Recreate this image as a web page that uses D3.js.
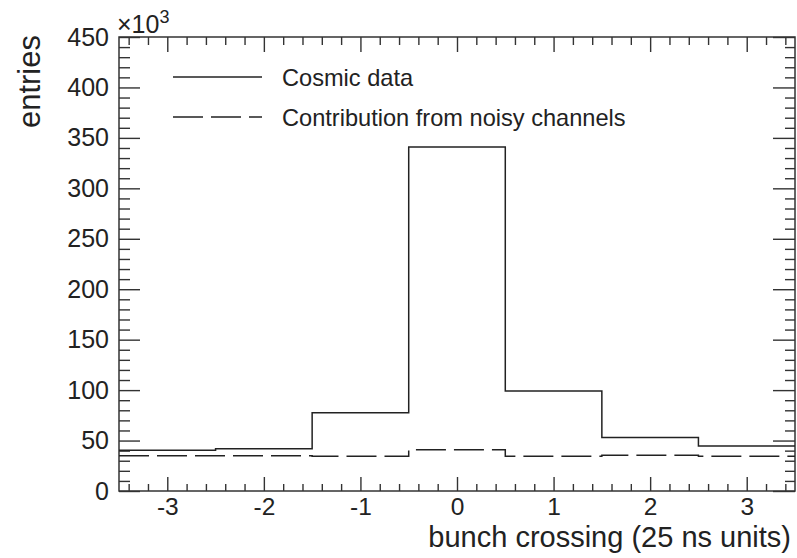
<!DOCTYPE html>
<html>
<head>
<meta charset="utf-8">
<script src="https://cdn.jsdelivr.net/npm/d3@7"></script>
<style>
  body { margin: 0; background: #fff; }
  svg { display: block; font-family: "Liberation Sans", Arial, sans-serif; }
  .axis path.domain { display: none; }
  .axis line { stroke: #333; stroke-width: 1.4; }
  .axis text { fill: #222; }
</style>
</head>
<body>
<div id="chart"></div>
<script>
// bin centres (25 ns units) and entries in units of 10^3
var binCenters = [-3, -2, -1, 0, 1, 2, 3];
var cosmicData = [40.5, 42, 77.5, 341, 99, 53, 44.5];
var noisyData = [35, 35, 34.5, 41, 34.5, 35.5, 34.5];
var xMajorTicks = [-3, -2, -1, 0, 1, 2, 3];
var yMajorTicks = [0, 50, 100, 150, 200, 250, 300, 350, 400, 450];
var legendLabels = ["Cosmic data", "Contribution from noisy channels"];

var width = 797, height = 558;
var frame = { left: 119, right: 795, top: 37, bottom: 491 };

var svg = d3.select("#chart").append("svg")
    .attr("width", width)
    .attr("height", height);

var x = d3.scaleLinear().domain([-3.5, 3.5]).range([frame.left, frame.right]);
var y = d3.scaleLinear().domain([0, 450]).range([frame.bottom, frame.top]);

// minor ticks: 5 divisions per major
var xMinor = d3.range(-34, 35, 2).map(d => d / 10).filter(d => !xMajorTicks.includes(d));
var yMinor = d3.range(0, 451, 10).filter(d => d % 50 !== 0);

// plain hyphen-minus like the original
var plain = d => String(d);

// bottom axis
svg.append("g").attr("class", "axis")
    .attr("transform", "translate(0," + frame.bottom + ")")
    .call(d3.axisBottom(x).tickValues(xMajorTicks).tickFormat(plain).tickSizeInner(-14).tickSizeOuter(0).tickPadding(7))
    .selectAll("text").style("font-size", "24.5px");
svg.append("g").attr("class", "axis")
    .attr("transform", "translate(0," + frame.bottom + ")")
    .call(d3.axisBottom(x).tickValues(xMinor).tickSizeInner(-7).tickSizeOuter(0).tickFormat(""));

// top axis (ticks only)
svg.append("g").attr("class", "axis")
    .attr("transform", "translate(0," + frame.top + ")")
    .call(d3.axisTop(x).tickValues(xMajorTicks).tickSizeInner(-15).tickSizeOuter(0).tickFormat(""));
svg.append("g").attr("class", "axis")
    .attr("transform", "translate(0," + frame.top + ")")
    .call(d3.axisTop(x).tickValues(xMinor).tickSizeInner(-8).tickSizeOuter(0).tickFormat(""));

// left axis
svg.append("g").attr("class", "axis")
    .attr("transform", "translate(" + frame.left + ",0)")
    .call(d3.axisLeft(y).tickValues(yMajorTicks).tickFormat(plain).tickSizeInner(-21).tickSizeOuter(0).tickPadding(10))
    .selectAll("text").style("font-size", "25px");
svg.append("g").attr("class", "axis")
    .attr("transform", "translate(" + frame.left + ",0)")
    .call(d3.axisLeft(y).tickValues(yMinor).tickSizeInner(-11).tickSizeOuter(0).tickFormat(""));

// right axis (ticks only)
svg.append("g").attr("class", "axis")
    .attr("transform", "translate(" + frame.right + ",0)")
    .call(d3.axisRight(y).tickValues(yMajorTicks).tickSizeInner(-22).tickSizeOuter(0).tickFormat(""));
svg.append("g").attr("class", "axis")
    .attr("transform", "translate(" + frame.right + ",0)")
    .call(d3.axisRight(y).tickValues(yMinor).tickSizeInner(-10).tickSizeOuter(0).tickFormat(""));

// frame
svg.append("rect")
    .attr("x", frame.left).attr("y", frame.top)
    .attr("width", frame.right - frame.left).attr("height", frame.bottom - frame.top)
    .attr("fill", "none").attr("stroke", "#333").attr("stroke-width", 1.5);

// histogram outlines: points on bin low edges, plus the last high edge
function histPoints(values) {
    var pts = binCenters.map((c, i) => [c - 0.5, values[i]]);
    pts.push([binCenters[binCenters.length - 1] + 0.5, values[values.length - 1]]);
    return pts;
}
var stepLine = d3.line()
    .x(d => x(d[0]))
    .y(d => y(d[1]))
    .curve(d3.curveStepAfter);

svg.append("path")
    .attr("d", stepLine(histPoints(cosmicData)))
    .attr("fill", "none").attr("stroke", "#222").attr("stroke-width", 1.5);

svg.append("path")
    .attr("d", stepLine(histPoints(noisyData)))
    .attr("fill", "none").attr("stroke", "#222").attr("stroke-width", 1.5)
    .attr("stroke-dasharray", "30,8");

// legend
var legend = svg.append("g");
legendLabels.forEach(function (label, i) {
    var ly = 77 + i * 40;
    legend.append("line")
        .attr("x1", 173).attr("x2", 262).attr("y1", ly).attr("y2", ly)
        .attr("stroke", "#222").attr("stroke-width", 1.5)
        .attr("stroke-dasharray", i === 1 ? "30,8" : null);
    legend.append("text")
        .attr("x", 282).attr("y", ly + 9)
        .style("font-size", "23.6px").attr("fill", "#222")
        .text(label);
});

// axis titles
svg.append("text")
    .attr("x", 791).attr("y", 547)
    .attr("text-anchor", "end")
    .style("font-size", "29px").attr("fill", "#222")
    .text("bunch crossing (25 ns units)");

svg.append("text")
    .attr("transform", "translate(40,35) rotate(-90)")
    .attr("text-anchor", "end")
    .style("font-size", "31px").attr("fill", "#222")
    .text("entries");

// exponent label
var expo = svg.append("text")
    .attr("x", 117).attr("y", 33)
    .style("font-size", "25px").attr("fill", "#222");
expo.append("tspan").text("\u00d710");
expo.append("tspan").attr("dy", -10).style("font-size", "18px").text("3");
</script>
</body>
</html>
